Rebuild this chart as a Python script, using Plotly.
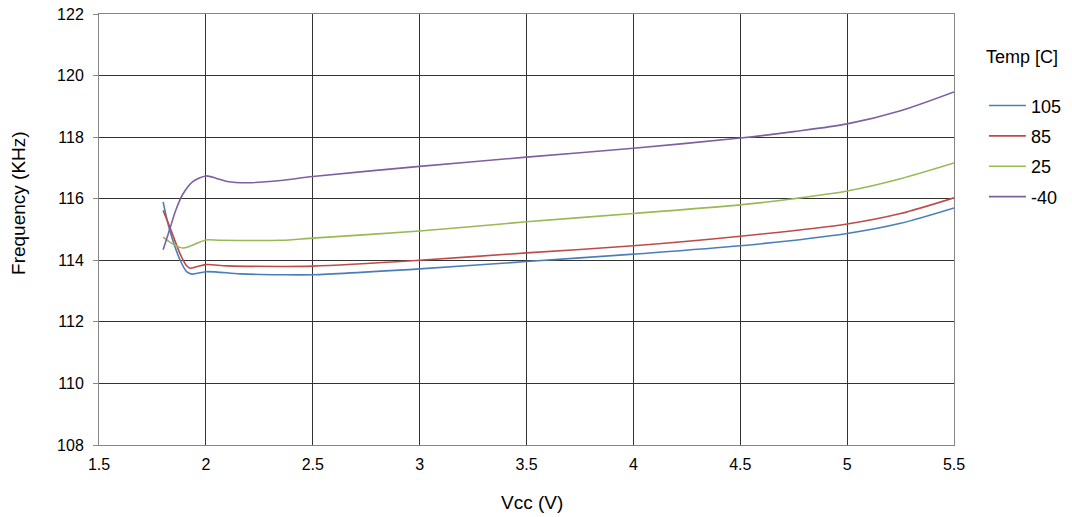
import plotly.graph_objects as go

vcc_105 = [1.80, 1.83, 1.88, 1.91, 1.935, 2.0, 2.16, 2.35, 2.5, 3.0, 3.5, 4.0, 4.5, 5.0, 5.25, 5.5]
f_105 = [115.9, 115.0, 114.0, 113.63, 113.55, 113.63, 113.56, 113.53, 113.53, 113.72, 113.96, 114.2, 114.47, 114.87, 115.2, 115.7]

vcc_85 = [1.80, 1.83, 1.88, 1.91, 1.925, 1.96, 2.0, 2.1, 2.35, 2.5, 3.0, 3.5, 4.0, 4.5, 5.0, 5.25, 5.5]
f_85 = [115.62, 115.1, 114.2, 113.82, 113.74, 113.8, 113.86, 113.82, 113.8, 113.81, 114.0, 114.24, 114.47, 114.78, 115.18, 115.52, 116.03]

vcc_25 = [1.80, 1.84, 1.89, 1.93, 2.0, 2.07, 2.35, 2.5, 3.0, 3.5, 4.0, 4.5, 4.75, 5.0, 5.25, 5.5]
f_25 = [114.75, 114.55, 114.4, 114.47, 114.66, 114.65, 114.65, 114.72, 114.95, 115.25, 115.52, 115.8, 116.0, 116.25, 116.65, 117.16]

vcc_m40 = [1.80, 1.83, 1.86, 1.89, 1.94, 2.0, 2.05, 2.1, 2.19, 2.35, 2.5, 3.0, 3.5, 4.0, 4.5, 4.75, 5.0, 5.25, 5.5]
f_m40 = [114.34, 114.99, 115.64, 116.12, 116.56, 116.74, 116.66, 116.56, 116.52, 116.59, 116.72, 117.05, 117.35, 117.64, 117.97, 118.18, 118.43, 118.86, 119.47]

series = [
    ("105", vcc_105, f_105, "#4A7EBB"),
    ("85", vcc_85, f_85, "#BE4B48"),
    ("25", vcc_25, f_25, "#98B954"),
    ("-40", vcc_m40, f_m40, "#7D60A0"),
]

x_ticks = [1.5, 2, 2.5, 3, 3.5, 4, 4.5, 5, 5.5]
y_ticks = [108, 110, 112, 114, 116, 118, 120, 122]

fig = go.Figure()
for name, xs, ys, color in series:
    fig.add_trace(go.Scatter(
        x=xs, y=ys, name=name, mode="lines",
        line=dict(color=color, width=1.6, shape="spline", smoothing=0.8),
        legendgroup=name,
    ))

font_family = "Liberation Sans, Arial, sans-serif"
fig.update_layout(
    width=1072, height=517, autosize=False,
    margin=dict(l=99, r=118, t=14, b=72, autoexpand=False),
    paper_bgcolor="white", plot_bgcolor="white",
    font=dict(family=font_family, size=16, color="#000000"),
    showlegend=True,
    legend=dict(
        x=1.035, xanchor="left", y=0.83, yanchor="top",
        font=dict(size=18),
        tracegroupgap=4,
        itemwidth=37,
        bgcolor="rgba(0,0,0,0)",
    ),
    annotations=[
        dict(text="Temp [C]", xref="paper", yref="paper",
             x=1.0795, y=0.900, xanchor="center", yanchor="middle",
             showarrow=False, font=dict(size=18, family=font_family)),
        dict(text="Vcc (V)", xref="paper", yref="paper",
             x=0.5064, y=-0.1323, xanchor="center", yanchor="middle",
             showarrow=False, font=dict(size=19, family=font_family)),
        dict(text="Frequency (KHz)", xref="paper", yref="paper",
             x=-0.0936, y=0.5615, xanchor="center", yanchor="middle",
             textangle=-90, showarrow=False, font=dict(size=19, family=font_family)),
    ],
)
fig.update_xaxes(
    range=[1.5, 5.5], tickvals=x_ticks, ticktext=[str(v) for v in x_ticks],
    showgrid=True, gridcolor="#333333", gridwidth=1,
    showline=True, linecolor="#868686", linewidth=1, mirror=True,
    ticks="", zeroline=False, ticklabelstandoff=5,
    tickfont=dict(size=16),
)
fig.update_yaxes(
    range=[108, 122], tickvals=y_ticks,
    showgrid=True, gridcolor="#333333", gridwidth=1,
    showline=True, linecolor="#868686", linewidth=1, mirror=True,
    ticks="outside", ticklen=5, tickcolor="#868686", zeroline=False,
    ticklabelstandoff=6,
    tickfont=dict(size=16),
)

fig.write_html("out.html", config={"displayModeBar": False},
               post_script="document.body.style.margin='0';document.body.style.overflow='hidden';")
